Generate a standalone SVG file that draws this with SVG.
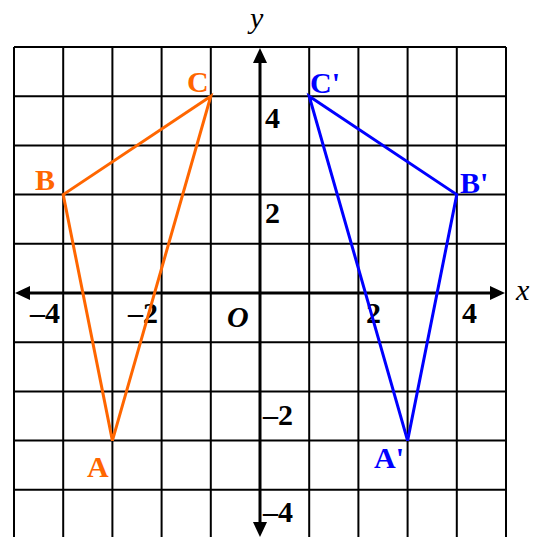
<svg xmlns="http://www.w3.org/2000/svg" width="536" height="537" viewBox="0 0 536 537">
<style>
.grid line{stroke:#000;stroke-width:2}
.axis{stroke:#000;stroke-width:3;fill:none}
.num{font-family:"Liberation Serif","Times New Roman",serif;font-weight:bold;font-size:30px;fill:#000}
.ital{font-family:"Liberation Serif","Times New Roman",serif;font-style:italic;font-size:30px;fill:#000}
.lo{font-family:"Liberation Serif","Times New Roman",serif;font-weight:bold;font-size:30px;fill:#FF6600}
.lb{font-family:"Liberation Serif","Times New Roman",serif;font-weight:bold;font-size:30px;fill:#0000FF}
.tri{fill:none;stroke-width:3;stroke-linejoin:miter}
</style>
<rect width="536" height="537" fill="#fff"/>
<g id="grid" class="grid">
<line x1="14" y1="47" x2="14" y2="537"/>
<line x1="63.2" y1="47" x2="63.2" y2="537"/>
<line x1="112.4" y1="47" x2="112.4" y2="537"/>
<line x1="161.6" y1="47" x2="161.6" y2="537"/>
<line x1="210.8" y1="47" x2="210.8" y2="537"/>
<line x1="309.2" y1="47" x2="309.2" y2="537"/>
<line x1="358.4" y1="47" x2="358.4" y2="537"/>
<line x1="407.6" y1="47" x2="407.6" y2="537"/>
<line x1="456.8" y1="47" x2="456.8" y2="537"/>
<line x1="506" y1="47" x2="506" y2="537"/>
<line x1="14" y1="47" x2="506" y2="47"/>
<line x1="14" y1="96.2" x2="506" y2="96.2"/>
<line x1="14" y1="145.4" x2="506" y2="145.4"/>
<line x1="14" y1="194.6" x2="506" y2="194.6"/>
<line x1="14" y1="243.8" x2="506" y2="243.8"/>
<line x1="14" y1="342.2" x2="506" y2="342.2"/>
<line x1="14" y1="391.4" x2="506" y2="391.4"/>
<line x1="14" y1="440.6" x2="506" y2="440.6"/>
<line x1="14" y1="489.8" x2="506" y2="489.8"/>
</g>
<g id="axes">
<line class="axis" x1="28" y1="293" x2="492" y2="293"/>
<line class="axis" x1="260" y1="62" x2="260" y2="524"/>
<polygon points="15,293 30,286 30,300" fill="#000"/>
<polygon points="505,293 490,286 490,300" fill="#000"/>
<polygon points="260,48 253,63 267,63" fill="#000"/>
<polygon points="260,537 253,522 267,522" fill="#000"/>
</g>
<g id="labels">
<text class="ital" x="250" y="28">y</text>
<text class="ital" x="516" y="300">x</text>
<text class="ital" x="227" y="327" font-weight="bold">O</text>
<text class="num" x="30" y="323">–4</text>
<text class="num" x="128" y="323">–2</text>
<text class="num" x="366" y="323">2</text>
<text class="num" x="462" y="323">4</text>
<text class="num" x="265" y="128">4</text>
<text class="num" x="265" y="223">2</text>
<text class="num" x="263" y="425">–2</text>
<text class="num" x="263" y="522">–4</text>
</g>
<g id="triangle-ABC">
<polygon class="tri" stroke="#FF6600" points="112.4,440.6 63.2,194.6 210.8,96.2"/>
<text class="lo" x="187" y="92">C</text>
<text class="lo" x="35" y="190">B</text>
<text class="lo" x="87" y="477">A</text>
</g>
<g id="triangle-A1B1C1">
<polygon class="tri" stroke="#0000FF" points="407.6,440.6 456.8,194.6 309.2,96.2"/>
<text class="lb" x="310" y="93">C'</text>
<text class="lb" x="460" y="193">B'</text>
<text class="lb" x="374" y="468">A'</text>
</g>
</svg>
